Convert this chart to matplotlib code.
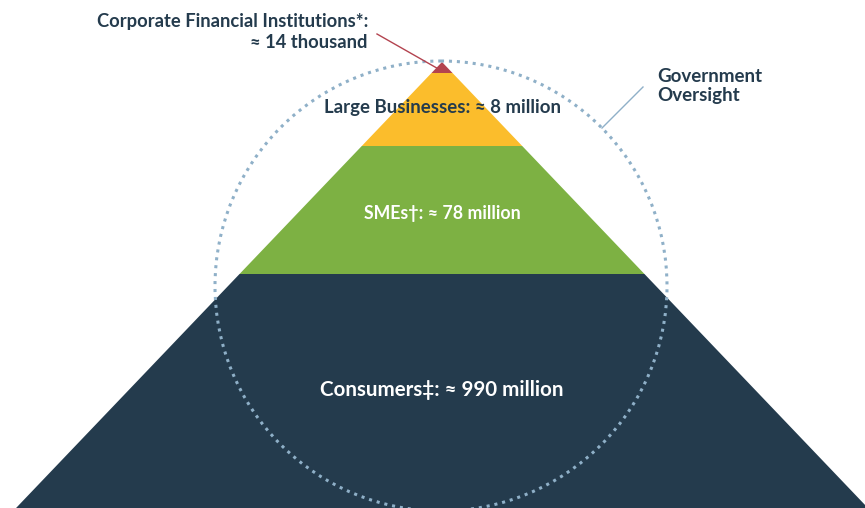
import matplotlib
matplotlib.use("Agg")
from matplotlib import pyplot as plt
from matplotlib.patches import Polygon, Ellipse

# tiers from top of the pyramid to the bottom
tiers = ["Corporate Financial Institutions*", "Large Businesses", "SMEs\u2020", "Consumers\u2021"]
counts = ["\u2248 14 thousand", "\u2248 8 million", "\u2248 78 million", "\u2248 990 million"]
colors = ["#b3434f", "#fbbd2c", "#7db143", "#243b4d"]
text_colors = ["#243b4d", "#243b4d", "white", "white"]

# layout in pixel coordinates (y grows downward)
W, H = 865, 508
apex_x, apex_y = 442, 62
slope = 0.955            # half-width per pixel of height
cuts = [62, 73, 146, 274, 520]
label_y = [None, 108, 214, 390]
label_size = [13.2, 13.4, 12.8, 14.8]

navy = "#243b4d"
ring = "#8fb0c8"

plt.rcParams['font.family'] = ['Lato', 'DejaVu Sans']

fig = plt.figure(figsize=(W / 100, H / 100), dpi=100)
ax = fig.add_axes([0, 0, 1, 1])
ax.set_xlim(0, W)
ax.set_ylim(H, 0)
ax.axis('off')


def half(y):
    return (y - apex_y) * slope


for i in range(len(tiers)):
    y0, y1 = cuts[i], cuts[i + 1]
    pts = [(apex_x - half(y0), y0), (apex_x + half(y0), y0),
           (apex_x + half(y1), y1), (apex_x - half(y1), y1)]
    ax.add_patch(Polygon(pts, closed=True, facecolor=colors[i], edgecolor='none', zorder=1))

# labels inside the lower three tiers
for i in range(1, len(tiers)):
    ax.text(apex_x, label_y[i], tiers[i] + ": " + counts[i], ha='center', va='center',
            fontsize=label_size[i], fontweight='bold', color=text_colors[i], zorder=4)

# top tier is too small, label it outside with a pointer
ax.text(368, 32, tiers[0] + ":\n" + counts[0], ha='right', va='center',
        fontsize=label_size[0], fontweight='bold', color=text_colors[0],
        linespacing=1.25, zorder=4)
ax.plot([377, 442], [34, 71], color=colors[0], lw=1, zorder=3)

# government oversight ring
ax.add_patch(Ellipse((441, 286), 452, 450, fill=False, edgecolor=ring, lw=2.2,
                     linestyle=(0, (1, 1.6)), zorder=2))
ax.plot([643, 602], [87, 128], color=ring, lw=1, zorder=3)
ax.text(657, 86, "Government\nOversight", ha='left', va='center',
        fontsize=13.5, fontweight='bold', color=navy, linespacing=1.15, zorder=4)

fig.savefig("out.png", dpi=100)
